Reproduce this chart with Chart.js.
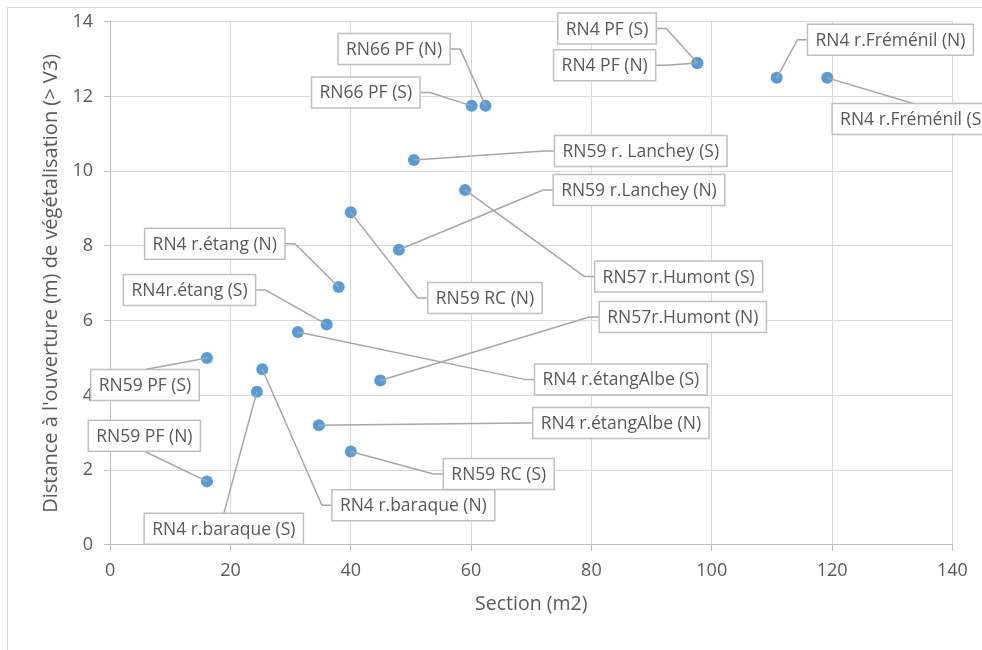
<!DOCTYPE html>
<html>
<head>
<meta charset="utf-8">
<title>Distance à l'ouverture vs section</title>
<script src="https://cdn.jsdelivr.net/npm/chart.js@4.4.1/dist/chart.umd.min.js"></script>
<style>
  html, body { margin: 0; padding: 0; background: #ffffff; }
  #wrap { width: 982px; height: 650px; position: relative; }
</style>
</head>
<body>
<div id="wrap"><canvas id="chart" width="982" height="650"></canvas></div>
<script>
// Ouvrages (name), section in m2, distance to the opening in m
const pointNames = [
  "RN59 PF (N)", "RN59 PF (S)", "RN4 r.baraque (S)", "RN4 r.baraque (N)",
  "RN4 r.étangAlbe (S)", "RN4 r.étangAlbe (N)", "RN4r.étang (S)", "RN4 r.étang (N)",
  "RN59 RC (N)", "RN59 RC (S)", "RN57r.Humont (N)", "RN59 r.Lanchey (N)",
  "RN59 r. Lanchey (S)", "RN57 r.Humont (S)", "RN66 PF (S)", "RN66 PF (N)",
  "RN4 PF (S)", "RN4 PF (N)", "RN4 r.Fréménil (N)", "RN4 r.Fréménil (S)"
];
const sectionM2 = [
  16.1, 16.1, 24.4, 25.3,
  31.2, 34.7, 36.0, 38.0,
  40.0, 40.0, 44.9, 48.0,
  50.5, 59.0, 60.1, 62.4,
  97.6, 97.6, 110.8, 119.2
];
const distanceM = [
  1.7, 5.0, 4.1, 4.7,
  5.7, 3.2, 5.9, 6.9,
  8.9, 2.5, 4.4, 7.9,
  10.3, 9.5, 11.75, 11.75,
  12.9, 12.9, 12.5, 12.5
];
const xTickValues = [0, 20, 40, 60, 80, 100, 120, 140];
const yTickValues = [0, 2, 4, 6, 8, 10, 12, 14];
const xAxisTitle = "Section (m2)";
const yAxisTitle = "Distance à l'ouverture (m) de végétalisation (> V3)";

// Where each callout box sits (centre, in axis units) and which side its leader leaves from
const calloutPlacement = [
  [5.7, 2.92, 'B'],  [5.8, 4.28, 'T'],  [18.9, 0.43, 'T'], [50.4, 1.06, 'L'],
  [84.9, 4.43, 'L'], [84.9, 3.26, 'L'], [13.2, 6.82, 'R'], [17.4, 8.06, 'R'],
  [62.3, 6.61, 'L'], [64.6, 1.90, 'L'], [95.2, 6.10, 'L'], [87.9, 9.50, 'L'],
  [88.2, 10.54, 'L'], [94.5, 7.18, 'L'], [42.5, 12.11, 'R'], [47.2, 13.27, 'R'],
  [82.6, 13.82, 'R'], [82.2, 12.84, 'R'], [129.7, 13.52, 'L'], [133.5, 11.40, 'T']
];

const FONT = "'Open Sans', 'DejaVu Sans', sans-serif";
const TEXT_COLOR = '#595959';

const points = sectionM2.map((x, i) => ({ x: x, y: distanceM[i] }));

// White page with the thin outer frame of the chart object
const framePlugin = {
  id: 'frame',
  beforeDraw(chart) {
    const ctx = chart.ctx;
    ctx.save();
    ctx.fillStyle = '#ffffff';
    ctx.fillRect(0, 0, chart.width, chart.height);
    ctx.strokeStyle = '#d9d9d9';
    ctx.lineWidth = 1;
    ctx.strokeRect(7.5, 7.5, chart.width + 50, chart.height + 50);
    ctx.restore();
  }
};

// Data labels in boxes, joined to their points by leader lines
const calloutPlugin = {
  id: 'callouts',
  afterDraw(chart) {
    const ctx = chart.ctx;
    const xs = chart.scales.x, ys = chart.scales.y;
    const meta = chart.getDatasetMeta(0);
    const boxH = 31, padX = 8, stub = 10;
    ctx.save();
    ctx.font = '17.5px ' + FONT;
    const boxes = pointNames.map((name, i) => {
      const [cx, cy, side] = calloutPlacement[i];
      const w = ctx.measureText(name).width + 2 * padX;
      const px = xs.getPixelForValue(cx), py = ys.getPixelForValue(cy);
      return { name, side, left: px - w / 2, top: py - boxH / 2, w, h: boxH, cx: px, cy: py,
               tx: meta.data[i].x, ty: meta.data[i].y };
    });
    // leader lines
    ctx.strokeStyle = '#a6a6a6';
    ctx.lineWidth = 1.5;
    ctx.lineJoin = 'round';
    boxes.forEach(b => {
      ctx.beginPath();
      if (b.side === 'L') {
        ctx.moveTo(b.left, b.cy);
        ctx.lineTo(b.left - stub, b.cy);
      } else if (b.side === 'R') {
        ctx.moveTo(b.left + b.w, b.cy);
        ctx.lineTo(b.left + b.w + stub, b.cy);
      } else if (b.side === 'T') {
        ctx.moveTo(b.cx, b.top);
      } else {
        ctx.moveTo(b.cx, b.top + b.h);
      }
      ctx.lineTo(b.tx, b.ty);
      ctx.stroke();
    });
    // boxes and text
    ctx.textAlign = 'center';
    ctx.textBaseline = 'middle';
    boxes.forEach(b => {
      ctx.fillStyle = '#ffffff';
      ctx.fillRect(b.left, b.top, b.w, b.h);
      ctx.strokeStyle = '#bfbfbf';
      ctx.lineWidth = 1.5;
      ctx.strokeRect(b.left, b.top, b.w, b.h);
      ctx.fillStyle = TEXT_COLOR;
      ctx.fillText(b.name, b.cx, b.cy + 1);
    });
    ctx.restore();
  }
};

new Chart(document.getElementById('chart'), {
  type: 'scatter',
  data: {
    datasets: [{
      data: points,
      pointRadius: 6,
      pointHoverRadius: 6,
      pointBackgroundColor: '#5b9bd5',
      pointBorderWidth: 0
    }]
  },
  options: {
    responsive: false,
    animation: false,
    events: [],
    layout: { padding: { left: 0, right: 29.6, top: 21.3, bottom: 0 } },
    plugins: { legend: { display: false }, tooltip: { enabled: false } },
    scales: {
      x: {
        type: 'linear', position: 'bottom', min: 0, max: 140,
        afterBuildTicks: s => { s.ticks = xTickValues.map(v => ({ value: v })); },
        afterFit: s => { s.height = 105.1; },
        grid: { color: '#d9d9d9', lineWidth: 1, tickLength: 6, tickColor: '#bfbfbf' },
        border: { color: '#bfbfbf', width: 1 },
        ticks: { color: TEXT_COLOR, font: { family: FONT, size: 18 }, padding: 9, maxRotation: 0 },
        title: { display: true, text: xAxisTitle, color: TEXT_COLOR,
                 font: { family: FONT, size: 19.5 }, padding: { top: 0, bottom: 34.3 } }
      },
      y: {
        type: 'linear', position: 'left', min: 0, max: 14,
        afterBuildTicks: s => { s.ticks = yTickValues.map(v => ({ value: v })); },
        afterFit: s => { s.width = 110.1; },
        grid: { color: '#d9d9d9', lineWidth: 1, tickLength: 6, tickColor: '#bfbfbf' },
        border: { color: '#bfbfbf', width: 1 },
        ticks: { color: TEXT_COLOR, font: { family: FONT, size: 18 }, padding: 11 },
        title: { display: true, text: yAxisTitle, color: TEXT_COLOR,
                 font: { family: FONT, size: 20 }, padding: { top: 39, bottom: 0 } }
      }
    }
  },
  plugins: [framePlugin, calloutPlugin]
});
</script>
</body>
</html>
